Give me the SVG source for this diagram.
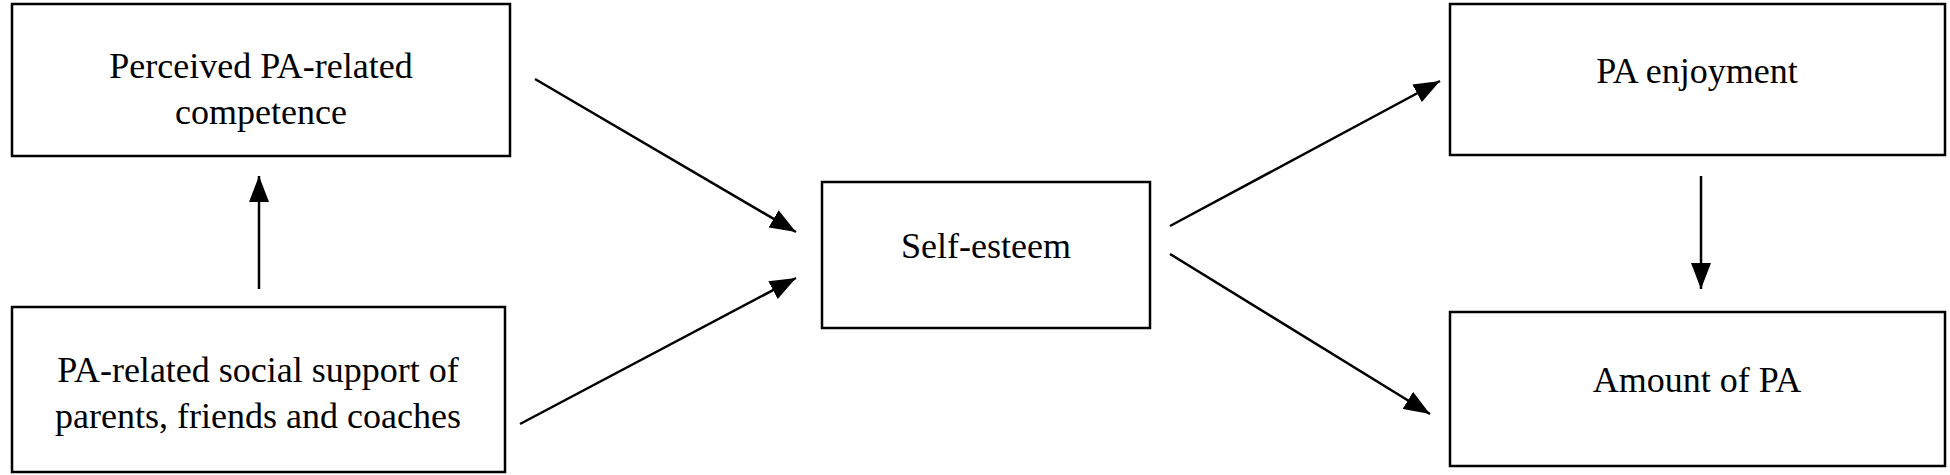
<svg xmlns="http://www.w3.org/2000/svg" width="1950" height="475" viewBox="0 0 1950 475">
<style>
rect{fill:#fff;stroke:#000;stroke-width:2.5}
text{font-family:"Liberation Serif",serif;font-size:36px;text-anchor:middle;fill:#000}
line{stroke:#000;stroke-width:2.5;marker-end:url(#a)}
</style>
<defs><marker id="a" viewBox="0 0 26 20" refX="26" refY="10" markerWidth="26" markerHeight="20" orient="auto" markerUnits="userSpaceOnUse"><path d="M0,0L26,10L0,20z"/></marker></defs>
<rect width="1950" height="475" fill="#fff" style="stroke:none"/>
<g id="n1"><rect x="12" y="4" width="498" height="152"/><text x="261" y="78">Perceived PA-related</text><text x="261" y="124">competence</text></g>
<g id="n2"><rect x="12" y="307" width="493" height="165"/><text x="258" y="382">PA-related social support of</text><text x="258" y="428">parents, friends and coaches</text></g>
<g id="n3"><rect x="822" y="182" width="328" height="146"/><text x="986" y="258">Self-esteem</text></g>
<g id="n4"><rect x="1450" y="4" width="495" height="151"/><text x="1697" y="83">PA enjoyment</text></g>
<g id="n5"><rect x="1450" y="312" width="495" height="154"/><text x="1697" y="392">Amount of PA</text></g>
<g id="edges">
<line x1="259" y1="289" x2="259" y2="176"/>
<line x1="535" y1="79" x2="796" y2="232"/>
<line x1="520" y1="424" x2="796" y2="278"/>
<line x1="1170" y1="226" x2="1440" y2="81"/>
<line x1="1170" y1="254" x2="1430" y2="414"/>
<line x1="1701" y1="176" x2="1701" y2="289"/>
</g>
</svg>
